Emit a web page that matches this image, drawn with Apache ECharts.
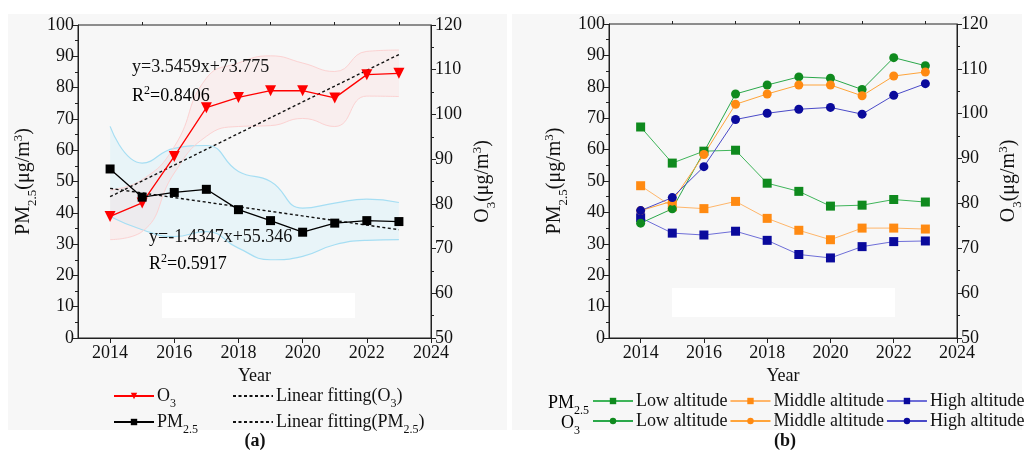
<!DOCTYPE html>
<html><head><meta charset="utf-8">
<script src="https://cdn.jsdelivr.net/npm/echarts@6/dist/echarts.min.js"></script>
<style>html,body{margin:0;padding:0;background:#fff}#c{width:1026px;height:452px}</style>
</head><body><div id="c"></div>
<script>
// ---------- data ----------
const years = [2014, 2015, 2016, 2017, 2018, 2019, 2020, 2021, 2022, 2023];
const bandCategories = ['2013', '2014', '2015', '2016', '2017', '2018', '2019', '2020', '2021', '2022', '2023', '2024'];
const xTicks = [2014, 2016, 2018, 2020, 2022, 2024];
const xMinorTicks = [2015, 2017, 2019, 2021, 2023];
// panel (a)
const o3Total = [77.2, 80.2, 90.6, 101.5, 103.8, 105.3, 105.3, 103.7, 108.9, 109.2];
const pmTotal = [54, 45, 46.5, 47.5, 41, 37.5, 33.8, 36.7, 37.5, 37.2];
const o3FitYears = [2014, 2023];
const o3FitValues = [81.6, 113.4];
const pmFitYears = [2014, 2023];
const pmFitValues = [47.8, 34.6];
const o3BandUpper = [83.1, 85.4, 92.8, 108.1, 111.5, 113.1, 111.5, 109.6, 114.1, 114.4];
const o3BandLower = [72.0, 73.8, 86.9, 95.1, 97.3, 97.5, 99.1, 97.3, 104.1, 104.0];
const pmBandUpper = [67.6, 55.9, 60.6, 61.5, 53.2, 50, 41.5, 43.1, 44.4, 43.3];
const pmBandLower = [38.8, 34.6, 32.4, 34, 28.7, 25, 26.1, 29.8, 31.2, 31.4];
// panel (b)
const pmLow = [67.2, 55.7, 59.5, 59.8, 49.3, 46.7, 42, 42.3, 44.1, 43.3];
const pmMid = [48.5, 41.8, 41.2, 43.5, 38.1, 34.3, 31.3, 35, 35, 34.7];
const pmHigh = [38.3, 33.4, 32.8, 34, 31.1, 26.6, 25.5, 29.1, 30.7, 30.9];
const o3Low = [75.6, 78.8, 91.5, 104.4, 106.4, 108.2, 107.9, 105.4, 112.5, 110.7];
const o3Mid = [78.4, 80.5, 90.9, 102.1, 104.4, 106.4, 106.4, 104.0, 108.4, 109.3];
const o3High = [78.4, 81.3, 88.2, 98.7, 100.1, 101.0, 101.4, 99.9, 104.1, 106.7];

const FONT = 'Liberation Serif';
const pair = (xs, ys) => xs.map((x, i) => [x, ys[i]]);
// band helpers on the hidden category axis (2013..2024), empty at both ends
const padBand = arr => ['-'].concat(arr, ['-']);
const padDiff = (u, l) => ['-'].concat(u.map((v, i) => +(v - l[i]).toFixed(2)), ['-']);

const rich = {
  a: {fontFamily: FONT, fontSize: 18, color: '#111', lineHeight: 22},
  sub: {fontFamily: FONT, fontSize: 12, color: '#111', lineHeight: 12, verticalAlign: 'bottom', padding: [0, 0, -3, 0]},
  sup: {fontFamily: FONT, fontSize: 12, color: '#111', lineHeight: 12, verticalAlign: 'top'}
};
const nameRich = {
  a: {fontFamily: FONT, fontSize: 20, color: '#111', lineHeight: 24},
  sub: {fontFamily: FONT, fontSize: 13, color: '#111', lineHeight: 13, verticalAlign: 'bottom', padding: [0, 0, -3, 0]},
  sup: {fontFamily: FONT, fontSize: 13, color: '#111', lineHeight: 13, verticalAlign: 'top'}
};
const pmName = '{a|PM}{sub|2.5}{a|(μg/m}{sup|3}{a|)}';
const o3Name = '{a|O}{sub|3}{a|(μg/m}{sup|3}{a|)}';

function xAxisMain(gi) {
  return {
    type: 'value', gridIndex: gi, min: 2013, max: 2024,
    name: 'Year', nameLocation: 'middle', nameGap: 26,
    nameTextStyle: {fontFamily: FONT, fontSize: 18, color: '#111'},
    axisLine: {lineStyle: {color: '#222', width: 1}},
    axisTick: {customValues: xTicks, length: 5, lineStyle: {color: '#222'}},
    axisLabel: {customValues: xTicks, formatter: v => String(v), fontFamily: FONT, fontSize: 18, color: '#111', margin: 6},
    splitLine: {show: false}
  };
}
function xAxisMinor(gi) {
  return {
    type: 'value', gridIndex: gi, min: 2013, max: 2024,
    axisLine: {show: false},
    axisTick: {customValues: xMinorTicks, length: 3, lineStyle: {color: '#222'}},
    axisLabel: {show: false}, splitLine: {show: false}
  };
}
function yAxis(gi, pos, min, max, name, gap) {
  return {
    type: 'value', gridIndex: gi, position: pos, min: min, max: max, interval: 10,
    name: name, nameLocation: 'middle', nameGap: gap, nameRotate: 90,
    nameTextStyle: {rich: nameRich},
    axisLine: {show: true, lineStyle: {color: '#222', width: 1}},
    axisTick: {show: true, length: 5, lineStyle: {color: '#222'}},
    minorTick: {show: true, splitNumber: 2, length: 3, lineStyle: {color: '#222'}},
    axisLabel: {fontFamily: FONT, fontSize: 18, color: '#111', margin: 4},
    splitLine: {show: false}
  };
}

const series = [
  // bands (a) on hidden category x axis (index 4)
  {type: 'line', xAxisIndex: 4, yAxisIndex: 0, data: padBand(pmBandLower), stack: 'pmb', smooth: 0.5,
   symbol: 'none', lineStyle: {color: '#a6def3', width: 1.2}, silent: true, z: 1},
  {type: 'line', xAxisIndex: 4, yAxisIndex: 0, data: padDiff(pmBandUpper, pmBandLower), stack: 'pmb', smooth: 0.5,
   symbol: 'none', lineStyle: {color: '#a6def3', width: 1.2}, areaStyle: {color: 'rgba(200,238,252,0.45)'}, silent: true, z: 1},
  {type: 'line', xAxisIndex: 4, yAxisIndex: 1, data: padBand(o3BandLower), stack: 'o3b', smooth: 0.5,
   symbol: 'none', lineStyle: {color: '#fcd2d2', width: 1}, silent: true, z: 1},
  {type: 'line', xAxisIndex: 4, yAxisIndex: 1, data: padDiff(o3BandUpper, o3BandLower), stack: 'o3b', smooth: 0.5,
   symbol: 'none', lineStyle: {color: '#fcd2d2', width: 1}, areaStyle: {color: 'rgba(255,205,205,0.32)'}, silent: true, z: 1},
  // fits
  {name: 'Linear fitting(O3)', type: 'line', xAxisIndex: 0, yAxisIndex: 1, data: pair(o3FitYears, o3FitValues),
   symbol: 'none', itemStyle: {color: '#111'}, lineStyle: {color: '#111', width: 1.4, type: [3, 2.5]}, z: 3},
  {name: 'Linear fitting(PM2.5)', type: 'line', xAxisIndex: 0, yAxisIndex: 0, data: pair(pmFitYears, pmFitValues),
   symbol: 'none', itemStyle: {color: '#111'}, lineStyle: {color: '#111', width: 1.4, type: [3, 2.5]}, z: 3},
  // main series (a)
  {name: 'O3', type: 'line', xAxisIndex: 0, yAxisIndex: 1, data: pair(years, o3Total),
   symbol: 'triangle', symbolRotate: 180, symbolSize: 11, itemStyle: {color: '#ff0000'}, lineStyle: {color: '#ff0000', width: 1.3}, z: 4},
  {name: 'PM2.5', type: 'line', xAxisIndex: 0, yAxisIndex: 0, data: pair(years, pmTotal),
   symbol: 'rect', symbolSize: 9, itemStyle: {color: '#000'}, lineStyle: {color: '#000', width: 1.3}, z: 4},
  // panel (b)
  {name: 'PM Low altitude', type: 'line', xAxisIndex: 2, yAxisIndex: 2, data: pair(years, pmLow),
   symbol: 'rect', symbolSize: 9, itemStyle: {color: '#0f8a1e'}, lineStyle: {color: '#3fb55a', width: 1}},
  {name: 'PM Middle altitude', type: 'line', xAxisIndex: 2, yAxisIndex: 2, data: pair(years, pmMid),
   symbol: 'rect', symbolSize: 9, itemStyle: {color: '#ff8a12'}, lineStyle: {color: '#ffb66a', width: 1}},
  {name: 'PM High altitude', type: 'line', xAxisIndex: 2, yAxisIndex: 2, data: pair(years, pmHigh),
   symbol: 'rect', symbolSize: 9, itemStyle: {color: '#0a0a9c'}, lineStyle: {color: '#6e6ed8', width: 1}},
  {name: 'O3 Low altitude', type: 'line', xAxisIndex: 2, yAxisIndex: 3, data: pair(years, o3Low),
   symbol: 'circle', symbolSize: 9, itemStyle: {color: '#0f8a1e'}, lineStyle: {color: '#2aa84a', width: 1}},
  {name: 'O3 Middle altitude', type: 'line', xAxisIndex: 2, yAxisIndex: 3, data: pair(years, o3Mid),
   symbol: 'circle', symbolSize: 9, itemStyle: {color: '#ff8a12'}, lineStyle: {color: '#ffa43a', width: 1}},
  {name: 'O3 High altitude', type: 'line', xAxisIndex: 2, yAxisIndex: 3, data: pair(years, o3High),
   symbol: 'circle', symbolSize: 9, itemStyle: {color: '#0a0a9c'}, lineStyle: {color: '#4a4ac8', width: 1}}
];

const legendFmt = function (n) {
  const map = {
    'O3': '{a|O}{sub|3}',
    'PM2.5': '{a|PM}{sub|2.5}',
    'Linear fitting(O3)': '{a|Linear fitting(O}{sub|3}{a|)}',
    'Linear fitting(PM2.5)': '{a|Linear fitting(PM}{sub|2.5}{a|)}'
  };
  if (map[n]) return map[n];
  return '{a|' + n.replace(/^(PM|O3) /, '') + '}';
};
const legendBase = {
  itemWidth: 40, itemHeight: 8, formatter: legendFmt,
  textStyle: {rich: rich, padding: [0, 0, 0, -2]}, selectedMode: false, padding: 0
};
const hiddenSym = name => ({name: name, itemStyle: {color: 'rgba(0,0,0,0)', borderWidth: 0, opacity: 0}});

const option = {
  backgroundColor: '#ffffff',
  animation: false,
  grid: [
    {left: 78, right: 595, top: 25, bottom: 114, show: true, borderColor: '#222', borderWidth: 1, backgroundColor: 'transparent'},
    {left: 609, right: 69, top: 24, bottom: 114, show: true, borderColor: '#222', borderWidth: 1, backgroundColor: 'transparent'}
  ],
  xAxis: [xAxisMain(0), xAxisMinor(0), xAxisMain(1), xAxisMinor(1),
    {type: 'category', gridIndex: 0, data: bandCategories, boundaryGap: false, show: false}],
  yAxis: [
    yAxis(0, 'left', 0, 100, pmName, 42),
    yAxis(0, 'right', 50, 120, o3Name, 40),
    yAxis(1, 'left', 0, 100, pmName, 42),
    yAxis(1, 'right', 50, 120, o3Name, 40)
  ],
  legend: [
    Object.assign({}, legendBase, {orient: 'vertical', left: 113, top: 387, itemGap: 3, data: ['O3', 'PM2.5']}),
    Object.assign({}, legendBase, {orient: 'vertical', left: 232, top: 387, itemGap: 3, data: [hiddenSym('Linear fitting(O3)'), hiddenSym('Linear fitting(PM2.5)')]}),
    Object.assign({}, legendBase, {orient: 'horizontal', left: 592, top: 392, itemGap: 2, data: ['PM Low altitude', 'PM Middle altitude', 'PM High altitude']}),
    Object.assign({}, legendBase, {orient: 'horizontal', left: 592, top: 412, itemGap: 2, data: ['O3 Low altitude', 'O3 Middle altitude', 'O3 High altitude']})
  ],
  graphic: [
    {type: 'rect', z: -100, shape: {x: 8, y: 14, width: 499, height: 416}, style: {fill: '#f7f7f7'}},
    {type: 'rect', z: -100, shape: {x: 512, y: 14, width: 510, height: 416}, style: {fill: '#f7f7f7'}},
    {type: 'rect', z: -50, shape: {x: 162, y: 293, width: 193, height: 25}, style: {fill: '#ffffff'}},
    {type: 'rect', z: -50, shape: {x: 672, y: 288, width: 223, height: 29}, style: {fill: '#ffffff'}},
    {type: 'text', z: 100, x: 132, y: 58, style: {text: 'y=3.5459x+73.775', font: '18px "Liberation Serif"', fill: '#111'}},
    {type: 'text', z: 100, x: 132, y: 85, style: {text: '{a|R}{sup|2}{a|=0.8406}', rich: rich}},
    {type: 'text', z: 100, x: 149, y: 228, style: {text: 'y=-1.4347x+55.346', font: '18px "Liberation Serif"', fill: '#111'}},
    {type: 'text', z: 100, x: 149, y: 253, style: {text: '{a|R}{sup|2}{a|=0.5917}', rich: rich}},
    {type: 'text', z: 100, x: 589, y: 392, style: {text: '{a|PM}{sub|2.5}', rich: rich, align: 'right'}},
    {type: 'text', z: 100, x: 580, y: 412, style: {text: '{a|O}{sub|3}', rich: rich, align: 'right'}},
    {type: 'text', z: 100, x: 255, y: 432, style: {text: '(a)', font: 'bold 18px "Liberation Serif"', fill: '#111', align: 'center'}},
    {type: 'text', z: 100, x: 785, y: 432, style: {text: '(b)', font: 'bold 18px "Liberation Serif"', fill: '#111', align: 'center'}}
  ],
  series: series
};
const chart = echarts.init(document.getElementById('c'), null, {renderer: 'canvas'});
chart.setOption(option);
</script></body></html>
